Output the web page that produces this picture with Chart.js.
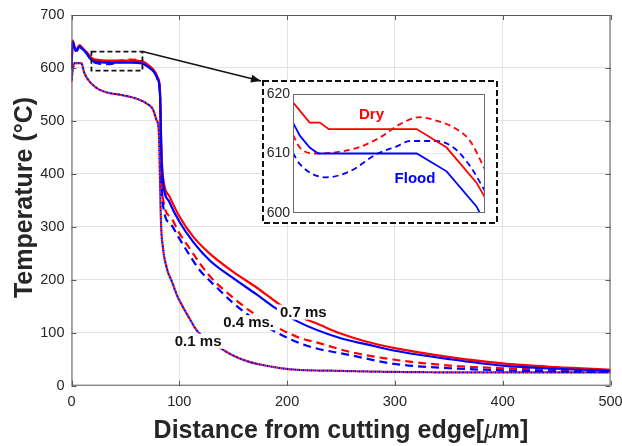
<!DOCTYPE html>
<html>
<head>
<meta charset="utf-8">
<script src="https://cdn.jsdelivr.net/npm/chart.js@4"></script>
<style>
  body { margin: 0; background: #fff; }
  #wrap { position: relative; width: 622px; height: 446px; }
  #inset { position: absolute; left: 262px; top: 80px; }
</style>
</head>
<body>
<div id="wrap">
  <canvas id="main" width="622" height="446"></canvas>
  <canvas id="inset" width="236" height="144"></canvas>
</div>
<script>
// ---- main chart data (distance in um, temperature in C) ----
const xTicks = [0, 100, 200, 300, 400, 500];
const yTicks = [0, 100, 200, 300, 400, 500, 600, 700];

const distSolidDry = [0, 1, 4, 7.5, 10, 14, 18.5, 26, 40, 55, 66, 72.6, 77, 80, 82, 83.5, 85, 91, 100, 113, 128, 150, 172, 192, 212, 227, 249, 274, 300, 351, 400, 450, 500];
const tempSolidDry = [600, 652, 634, 643, 638, 630, 619, 615, 614, 614, 612, 603, 594, 582, 560, 440, 392, 357, 320, 281, 250, 215, 185, 155, 130, 118, 99, 83, 71, 54, 42, 35, 30];

const distSolidFlood = [0, 1, 4, 7.5, 10, 14, 18.5, 26, 40, 55, 66, 72.6, 77, 80, 82, 83.5, 85, 91, 100, 113, 128, 150, 172, 189, 210, 249, 274, 300, 351, 400, 450, 500];
const tempSolidFlood = [598, 650, 632, 641, 636, 628, 615, 611, 610, 610, 608, 600, 591, 579, 555, 430, 383, 346, 310, 271, 237, 203, 172, 147, 121, 90, 78, 66, 50, 38, 32, 28];

const distDashDry = [0, 1, 4, 7.5, 10, 14, 18.5, 26, 35, 45, 55, 62, 66, 72.6, 77, 80, 82, 83.5, 84.5, 92, 100, 110, 119, 130, 150, 168, 190, 212, 227, 258, 300, 351, 400, 450, 500];
const tempDashDry = [598, 650, 632, 642, 637, 629, 617, 612, 611, 614, 616, 615, 612, 603, 593, 580, 555, 420, 360, 318, 288, 258, 231, 203, 166, 138, 111, 90, 82, 64, 49, 38, 33, 30, 28];

const distDashFlood = [0, 1, 4, 7.5, 10, 14, 18.5, 26, 35, 45, 55, 62, 66, 72.6, 77, 80, 82, 83.5, 84.5, 92, 100, 110, 119, 134, 150, 165, 187, 212, 224, 258, 300, 351, 400, 450, 500];
const tempDashFlood = [596, 648, 630, 640, 635, 627, 614, 608, 607, 611, 612, 611, 608, 600, 591, 578, 552, 410, 348, 305, 278, 245, 218, 187, 156, 132, 104, 80, 72, 58, 41, 33, 29, 27, 26];

const distDot = [0, 1, 3, 9, 12, 21.5, 31, 46, 58.7, 69.5, 75.7, 78.8, 81, 82, 83, 85, 88, 94, 98, 103, 110, 116, 125, 138, 150, 165, 180, 203, 249, 300, 400, 500];
const tempDotDry = [574, 595, 609, 609, 590, 565, 555, 549, 543, 533, 521, 502, 480, 400, 310, 258, 225, 192, 170, 150, 125, 105, 88, 71, 57, 45, 38, 31, 28, 26, 25, 25];
const tempDotFlood = [574, 595, 609, 609, 590, 565, 555, 549, 543, 533, 521, 502, 480, 400, 310, 258, 225, 192, 170, 150, 125, 105, 88, 71, 57, 45, 38, 31, 28, 26, 25, 25];

// time labels on the curves (text, anchor in data units)
const timeLabels = ['0.7 ms', '0.4 ms.', '0.1 ms'];
const timeLabelX = [193.3, 140.7, 95.8];
const timeLabelY = [138, 118, 83];

// region shown in the inset
const zoomBoxX = [18.5, 65.8];
const zoomBoxY = [595, 631];

// ---- inset data ----
const insetYTicks = [600, 610, 620];
const insDistSolidDry = [20, 23.9, 26.3, 28.4, 49, 56, 63, 65];
const insTempSolidDry = [618.6, 615.2, 615.2, 614.1, 614.1, 611, 605.1, 602.6];
const insDistSolidFlood = [20, 21.6, 23.9, 25.9, 49, 56, 63, 63.8];
const insTempSolidFlood = [615.2, 613, 611, 610, 610, 607, 601.1, 600];
const insDistDashDry = [20, 21.6, 25.5, 31, 35.7, 41.1, 45, 49.7, 53.7, 57.6, 61.5, 65];
const insTempDashDry = [613.1, 611, 610, 610.3, 611.1, 613, 614.9, 616.1, 615.5, 614.4, 612.1, 607.3];
const insDistDashFlood = [20, 21.6, 27.8, 33.3, 39.6, 44.3, 47.4, 53.7, 57.6, 61.5, 65];
const insTempDashFlood = [610.1, 608.2, 606, 607, 609.9, 611.2, 612.1, 612.1, 611, 607.9, 603.7];
const insetLabels = ['Dry', 'Flood'];
const insetLabelX = [38.4, 48.6];
const insetLabelY = [616.5, 605.8];

const RED = '#ff0000';
const BLUE = '#0000ff';
const FONT = '"Liberation Sans", Arial, sans-serif';
const INSET_POS = { left: 262, top: 80 };

const pts = (xs, ys) => xs.map((v, i) => ({ x: v, y: ys[i] }));

const line = (label, xs, ys, color, dash, order, offset = 0) => ({
    label,
    data: pts(xs, ys),
    borderColor: color,
    borderWidth: 2.2,
    borderDash: dash,
    borderDashOffset: offset,
    pointRadius: 0,
    cubicInterpolationMode: 'monotone',
    order
});

// no extra label overflow padding, the layout padding decides the plot box
const noOverflow = s => {
    s.paddingLeft = 0; s.paddingRight = 0;
    s.paddingTop = 0; s.paddingBottom = 0;
};

/* =======================
   MAIN CHART EXTRAS
======================= */
const mainExtras = {
    id: 'mainExtras',
    afterDatasetsDraw(chart) {
        const { ctx, scales: { x, y } } = chart;
        ctx.save();
        ctx.font = 'bold 15px ' + FONT;
        ctx.textBaseline = 'middle';
        timeLabels.forEach((t, i) => {
            const px = x.getPixelForValue(timeLabelX[i]);
            const py = y.getPixelForValue(timeLabelY[i]);
            const w = ctx.measureText(t).width;
            ctx.fillStyle = '#fff';
            ctx.fillRect(px - 3, py - 8, w + 6, 15);
            ctx.fillStyle = '#111';
            ctx.fillText(t, px, py);
        });
        ctx.restore();
    },
    afterDraw(chart) {
        const { ctx, chartArea: a, scales: { x, y } } = chart;
        ctx.save();

        // box + inward ticks
        ctx.strokeStyle = '#5a5a5a';
        ctx.lineWidth = 1;
        ctx.strokeRect(a.left + 0.5, a.top + 0.5, a.right - a.left - 1, a.bottom - a.top - 1);
        ctx.beginPath();
        xTicks.forEach(v => {
            const px = Math.round(x.getPixelForValue(v)) + 0.5;
            ctx.moveTo(px, a.bottom); ctx.lineTo(px, a.bottom - 5);
            ctx.moveTo(px, a.top); ctx.lineTo(px, a.top + 5);
        });
        yTicks.forEach(v => {
            const py = Math.round(y.getPixelForValue(v)) + 0.5;
            ctx.moveTo(a.left, py); ctx.lineTo(a.left + 5, py);
            ctx.moveTo(a.right, py); ctx.lineTo(a.right - 5, py);
        });
        ctx.stroke();

        // dashed zoom box
        const bx0 = x.getPixelForValue(zoomBoxX[0]), bx1 = x.getPixelForValue(zoomBoxX[1]);
        const by0 = y.getPixelForValue(zoomBoxY[1]), by1 = y.getPixelForValue(zoomBoxY[0]);
        ctx.strokeStyle = '#111';
        ctx.lineWidth = 1.8;
        ctx.setLineDash([5, 3]);
        ctx.strokeRect(bx0, by0, bx1 - bx0, by1 - by0);
        ctx.setLineDash([]);

        // arrow to the inset
        const ex = INSET_POS.left - 1, ey = INSET_POS.top + 1;
        ctx.lineWidth = 1.5;
        ctx.beginPath();
        ctx.moveTo(bx1, by0);
        ctx.lineTo(ex, ey);
        ctx.stroke();
        const ang = Math.atan2(ey - by0, ex - bx1);
        ctx.fillStyle = '#111';
        ctx.beginPath();
        ctx.moveTo(ex, ey);
        ctx.lineTo(ex - 10 * Math.cos(ang) + 4 * Math.sin(ang), ey - 10 * Math.sin(ang) - 4 * Math.cos(ang));
        ctx.lineTo(ex - 10 * Math.cos(ang) - 4 * Math.sin(ang), ey - 10 * Math.sin(ang) + 4 * Math.cos(ang));
        ctx.closePath();
        ctx.fill();

        // axis titles
        ctx.fillStyle = '#262626';
        ctx.textBaseline = 'alphabetic';
        const parts = [
            ['Distance from cutting edge[', 'bold 25px ' + FONT],
            ['\u03bc', 'italic 25px ' + FONT],
            ['m]', 'bold 25px ' + FONT]
        ];
        let total = 0;
        parts.forEach(p => { ctx.font = p[1]; total += ctx.measureText(p[0]).width; });
        let cx = (a.left + a.right) / 2 - total / 2;
        ctx.textAlign = 'left';
        parts.forEach(p => {
            ctx.font = p[1];
            ctx.fillText(p[0], cx, 438);
            cx += ctx.measureText(p[0]).width;
        });

        ctx.translate(31.5, 197.5);
        ctx.rotate(-Math.PI / 2);
        ctx.font = 'bold 25px ' + FONT;
        ctx.textAlign = 'center';
        ctx.fillText('Temperature (\u00b0C)', 0, 0);
        ctx.restore();
    }
};

new Chart(document.getElementById('main'), {
    type: 'line',
    data: {
        datasets: [
            line('0.7 ms Flood', distSolidFlood, tempSolidFlood, BLUE, [], 1),
            line('0.7 ms Dry', distSolidDry, tempSolidDry, RED, [], 2),
            line('0.4 ms Flood', distDashFlood, tempDashFlood, BLUE, [8, 5], 3),
            line('0.4 ms Dry', distDashDry, tempDashDry, RED, [8, 5], 4, 4),
            line('0.1 ms Flood', distDot, tempDotFlood, BLUE, [2, 2], 5, 2),
            line('0.1 ms Dry', distDot, tempDotDry, RED, [2, 2], 6)
        ]
    },
    options: {
        responsive: false,
        animation: false,
        layout: { padding: { top: 15, right: 11.5, left: 0, bottom: 0 } },
        plugins: { legend: { display: false }, tooltip: { enabled: false } },
        scales: {
            x: {
                type: 'linear', min: 0, max: 500,
                afterBuildTicks: s => { s.ticks = xTicks.map(v => ({ value: v })); },
                afterFit: s => { s.height = 60.3; noOverflow(s); },
                ticks: { font: { family: FONT, size: 14.5 }, color: '#262626', padding: 8, maxRotation: 0 },
                grid: { color: '#e3e3e3', drawTicks: false },
                border: { display: false }
            },
            y: {
                min: 0, max: 700,
                afterBuildTicks: s => { s.ticks = yTicks.map(v => ({ value: v })); },
                afterFit: s => { s.width = 71.5; noOverflow(s); },
                ticks: { font: { family: FONT, size: 14.5 }, color: '#262626', padding: 7 },
                grid: { color: '#e3e3e3', drawTicks: false },
                border: { display: false }
            }
        }
    },
    plugins: [mainExtras]
});

/* =======================
   INSET
======================= */
const insetFrame = {
    id: 'insetFrame',
    beforeDraw(chart) {
        const { ctx, width, height } = chart;
        ctx.save();
        ctx.fillStyle = '#fff';
        ctx.fillRect(0, 0, width, height);
        ctx.strokeStyle = '#111';
        ctx.lineWidth = 2;
        ctx.setLineDash([6, 3]);
        ctx.strokeRect(1, 1, width - 2, height - 2);
        ctx.restore();
    },
    afterDraw(chart) {
        const { ctx, chartArea: a, scales: { x, y } } = chart;
        ctx.save();
        ctx.strokeStyle = '#6a6a6a';
        ctx.lineWidth = 1;
        ctx.strokeRect(a.left + 0.5, a.top + 0.5, a.right - a.left - 1, a.bottom - a.top - 1);
        ctx.font = 'bold 15px ' + FONT;
        ctx.textAlign = 'center';
        ctx.textBaseline = 'middle';
        insetLabels.forEach((t, i) => {
            ctx.fillStyle = i === 0 ? RED : BLUE;
            ctx.fillText(t, x.getPixelForValue(insetLabelX[i]), y.getPixelForValue(insetLabelY[i]));
        });
        ctx.restore();
    }
};

const insetLine = (label, xs, ys, color, dash, order) => ({
    ...line(label, xs, ys, color, dash, order),
    borderWidth: 1.8,
    cubicInterpolationMode: dash.length ? 'monotone' : 'default',
    tension: 0
});

new Chart(document.getElementById('inset'), {
    type: 'line',
    data: {
        datasets: [
            insetLine('Flood solid', insDistSolidFlood, insTempSolidFlood, BLUE, [], 1),
            insetLine('Dry solid', insDistSolidDry, insTempSolidDry, RED, [], 2),
            insetLine('Flood dashed', insDistDashFlood, insTempDashFlood, BLUE, [6, 4], 3),
            insetLine('Dry dashed', insDistDashDry, insTempDashDry, RED, [6, 4], 4)
        ]
    },
    options: {
        responsive: false,
        animation: false,
        layout: { padding: { top: 14, right: 13, left: 0, bottom: 11 } },
        plugins: { legend: { display: false }, tooltip: { enabled: false } },
        scales: {
            x: { type: 'linear', min: 20, max: 65, display: false },
            y: {
                min: 600, max: 620,
                afterBuildTicks: s => { s.ticks = insetYTicks.map(v => ({ value: v })); },
                afterFit: s => { s.width = 31; noOverflow(s); },
                ticks: { font: { family: FONT, size: 14 }, color: '#262626', padding: 3 },
                grid: { drawTicks: false, color: c => (c.tick && c.tick.value === 610) ? '#e6e6e6' : 'rgba(0,0,0,0)' },
                border: { display: false }
            }
        }
    },
    plugins: [insetFrame]
});
</script>
</body>
</html>
